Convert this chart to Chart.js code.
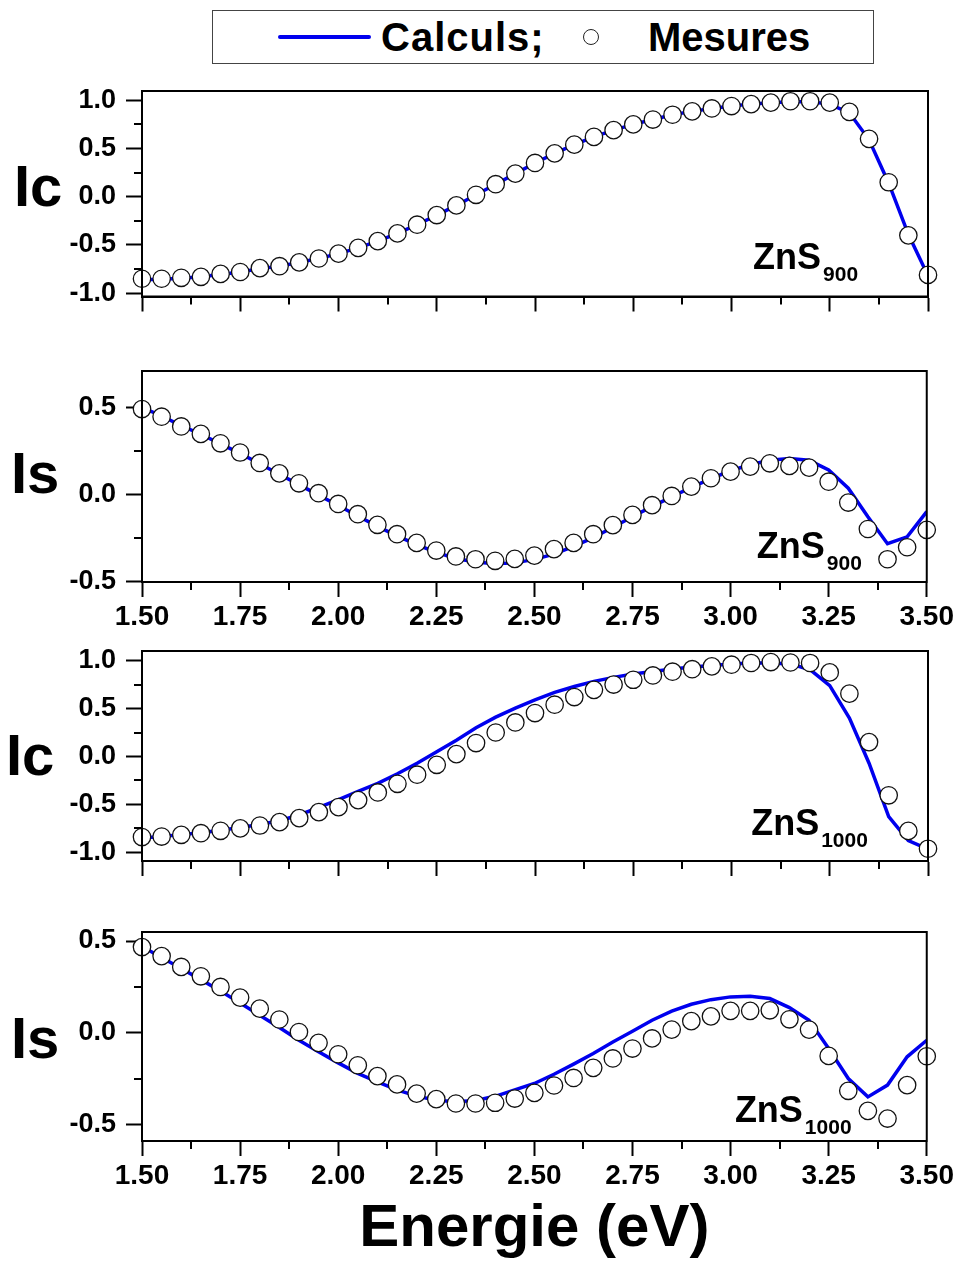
<!DOCTYPE html>
<html>
<head>
<meta charset="utf-8">
<script src="https://cdn.jsdelivr.net/npm/chart.js@4.4.0/dist/chart.umd.min.js"></script>
<style>
  body { margin: 0; background: #fff; width: 960px; height: 1278px; position: relative; overflow: hidden;
         font-family: "Liberation Sans", Arial, sans-serif; }
  canvas { position: absolute; left: 0; }
  .legbox { position: absolute; left: 212px; top: 10px; width: 662px; height: 54px; box-sizing: border-box;
            border: 1.5px solid #444; }
  .legline { position: absolute; left: 278px; top: 35px; width: 93px; height: 4px; background: #0000ee; border-radius: 2px; }
  .legtxt { position: absolute; top: 17px; font-weight: bold; font-size: 40px; line-height: 40px; color: #000; }
  .legdot { position: absolute; left: 583px; top: 29px; width: 16px; height: 16px; box-sizing: border-box;
            border: 1.3px solid #222; border-radius: 50%; background: #fff; }
</style>
</head>
<body>
<div class="legbox"></div>
<div class="legline"></div>
<div class="legtxt" style="left:381px; letter-spacing:1px">Calculs;</div>
<div class="legdot"></div>
<div class="legtxt" style="left:648px">Mesures</div>

<canvas id="c1" width="960" height="260" style="top:60px"></canvas>
<canvas id="c2" width="960" height="300" style="top:340px"></canvas>
<canvas id="c3" width="960" height="270" style="top:620px"></canvas>
<canvas id="c4" width="960" height="378" style="top:900px"></canvas>

<script>
// Energie (eV) - same grid for every series
const energie = [1.50, 1.55, 1.60, 1.65, 1.70, 1.75, 1.80, 1.85, 1.90, 1.95,
  2.00, 2.05, 2.10, 2.15, 2.20, 2.25, 2.30, 2.35, 2.40, 2.45,
  2.50, 2.55, 2.60, 2.65, 2.70, 2.75, 2.80, 2.85, 2.90, 2.95,
  3.00, 3.05, 3.10, 3.15, 3.20, 3.25, 3.30, 3.35, 3.40, 3.45, 3.50];

// ZnS 900 - Ic
const mesIc900 = [-0.85, -0.85, -0.84, -0.83, -0.80, -0.78, -0.74, -0.72, -0.68, -0.64,
  -0.59, -0.53, -0.46, -0.38, -0.29, -0.19, -0.09, 0.02, 0.13, 0.24,
  0.35, 0.45, 0.54, 0.62, 0.69, 0.75, 0.80, 0.85, 0.885, 0.915,
  0.94, 0.96, 0.975, 0.99, 0.99, 0.975, 0.88, 0.60, 0.15, -0.40, -0.81];
const calIc900 = [-0.86, -0.855, -0.845, -0.83, -0.805, -0.78, -0.745, -0.72, -0.68, -0.64,
  -0.59, -0.53, -0.46, -0.38, -0.29, -0.19, -0.09, 0.02, 0.13, 0.24,
  0.35, 0.45, 0.54, 0.62, 0.69, 0.75, 0.80, 0.85, 0.885, 0.915,
  0.94, 0.96, 0.975, 0.985, 0.985, 0.96, 0.87, 0.59, 0.14, -0.39, -0.82];

// ZnS 900 - Is
const mesIs900 = [0.49, 0.446, 0.39, 0.347, 0.293, 0.24, 0.18, 0.12, 0.063, 0.006,
  -0.056, -0.115, -0.176, -0.23, -0.28, -0.324, -0.358, -0.374, -0.383, -0.372,
  -0.353, -0.316, -0.28, -0.23, -0.178, -0.119, -0.063, -0.01, 0.044, 0.092,
  0.13, 0.159, 0.178, 0.163, 0.153, 0.072, -0.048, -0.20, -0.374, -0.305, -0.205];
const calIs900 = [0.50, 0.45, 0.395, 0.345, 0.29, 0.235, 0.175, 0.115, 0.055, -0.005,
  -0.065, -0.125, -0.185, -0.24, -0.29, -0.335, -0.37, -0.39, -0.40, -0.395,
  -0.375, -0.345, -0.30, -0.25, -0.19, -0.13, -0.07, -0.015, 0.04, 0.09,
  0.135, 0.17, 0.195, 0.205, 0.195, 0.14, 0.035, -0.13, -0.285, -0.245, -0.10];

// ZnS 1000 - Ic
const mesIc1000 = [-0.84, -0.835, -0.817, -0.80, -0.775, -0.75, -0.72, -0.685, -0.643, -0.58,
  -0.528, -0.455, -0.375, -0.285, -0.19, -0.087, 0.025, 0.14, 0.25, 0.355,
  0.453, 0.54, 0.62, 0.695, 0.75, 0.80, 0.845, 0.884, 0.91, 0.94,
  0.957, 0.975, 0.985, 0.98, 0.975, 0.877, 0.655, 0.15, -0.405, -0.776, -0.962];
const calIc1000 = [-0.85, -0.835, -0.815, -0.795, -0.77, -0.74, -0.71, -0.67, -0.61, -0.53,
  -0.45, -0.365, -0.28, -0.18, -0.07, 0.05, 0.17, 0.30, 0.41, 0.505,
  0.59, 0.668, 0.73, 0.783, 0.825, 0.86, 0.887, 0.912, 0.933, 0.95,
  0.965, 0.975, 0.975, 0.965, 0.905, 0.738, 0.40, -0.07, -0.626, -0.877, -0.967];

// ZnS 1000 - Is
const mesIs1000 = [0.467, 0.418, 0.359, 0.308, 0.25, 0.192, 0.132, 0.073, 0.005, -0.054,
  -0.116, -0.176, -0.235, -0.28, -0.33, -0.36, -0.384, -0.384, -0.38, -0.357,
  -0.326, -0.286, -0.245, -0.19, -0.139, -0.085, -0.03, 0.018, 0.064, 0.09,
  0.12, 0.12, 0.123, 0.074, 0.018, -0.125, -0.315, -0.424, -0.466, -0.284, -0.127];
const calIs1000 = [0.47, 0.41, 0.35, 0.29, 0.228, 0.163, 0.096, 0.029, -0.04, -0.103,
  -0.163, -0.22, -0.266, -0.31, -0.344, -0.366, -0.375, -0.368, -0.345, -0.31,
  -0.275, -0.225, -0.17, -0.112, -0.049, 0.009, 0.069, 0.118, 0.156, 0.181,
  0.196, 0.2, 0.187, 0.138, 0.069, -0.085, -0.248, -0.348, -0.284, -0.13, -0.04];

const FONT = '"Liberation Sans", Arial, sans-serif';

function pts(ys) {
    return ys.map((v, i) => ({ x: energie[i], y: v }));
}

// frame, minor ticks, "Ic"/"Is" and ZnS tags
const deco = {
    id: 'deco',
    afterDraw(chart, args, o) {
        const { ctx, chartArea: a, scales: { x, y } } = chart;
        ctx.save();
        ctx.strokeStyle = '#000';
        ctx.lineWidth = 2;
        ctx.strokeRect(a.left, a.top, a.right - a.left, a.bottom - a.top);

        // minor ticks half way between the majors
        ctx.beginPath();
        const xt = x.ticks.map(t => t.value);
        for (let i = 1; i < xt.length; i++) {
            const px = Math.round(x.getPixelForValue((xt[i - 1] + xt[i]) / 2));
            ctx.moveTo(px, a.bottom);
            ctx.lineTo(px, a.bottom + 8);
        }
        const yt = y.ticks.map(t => t.value);
        const ym = [];
        for (let i = 1; i < yt.length; i++) ym.push((yt[i - 1] + yt[i]) / 2);
        const half = (yt[1] - yt[0]) / 2;
        if (yt[0] - half >= y.min) ym.push(yt[0] - half);
        if (yt[yt.length - 1] + half <= y.max) ym.push(yt[yt.length - 1] + half);
        ym.forEach(v => {
            const py = Math.round(y.getPixelForValue(v));
            ctx.moveTo(a.left, py);
            ctx.lineTo(a.left - 8, py);
        });
        ctx.stroke();

        ctx.fillStyle = '#000';
        ctx.textBaseline = 'alphabetic';
        ctx.textAlign = 'left';
        ctx.font = 'bold 58px ' + FONT;
        ctx.fillText(o.label, o.labelX, y.getPixelForValue(o.labelY) + 21);

        const tx = x.getPixelForValue(o.tag[0]);
        const ty = y.getPixelForValue(o.tag[1]);
        ctx.font = 'bold 36px ' + FONT;
        ctx.fillText('ZnS', tx, ty);
        const w = ctx.measureText('ZnS').width;
        ctx.font = 'bold 21px ' + FONT;
        ctx.fillText(o.sub, tx + w + 2, ty + 12);
        ctx.restore();
    }
};

function drawPanel(id, cfg) {
    const ctx = document.getElementById(id);
    new Chart(ctx, {
        type: 'scatter',
        data: {
            datasets: [{
                label: 'Mesures',
                data: pts(cfg.mes),
                showLine: false,
                pointRadius: 8.7,
                pointBackgroundColor: '#fff',
                pointBorderColor: '#111',
                pointBorderWidth: 1.3,
                clip: false,
                order: 0
            }, {
                label: 'Calculs',
                data: pts(cfg.cal),
                showLine: true,
                borderColor: '#0000ee',
                borderWidth: 3.5,
                pointRadius: 0,
                tension: 0,
                order: 1
            }]
        },
        options: {
            responsive: false,
            animation: false,
            events: [],
            layout: { padding: { top: cfg.padTop, right: 32, left: 0, bottom: 0 } },
            scales: {
                x: {
                    type: 'linear',
                    min: 1.5,
                    max: 3.5,
                    border: { color: '#000', width: 2 },
                    grid: { drawOnChartArea: false, drawTicks: true, tickLength: 15, tickColor: '#000', tickWidth: 2 },
                    ticks: {
                        display: cfg.xLabels,
                        stepSize: 0.25,
                        autoSkip: false,
                        maxRotation: 0,
                        padding: 6,
                        color: '#000',
                        font: { family: FONT, size: 28, weight: 'bold', lineHeight: 1 },
                        callback: v => Number(v).toFixed(2)
                    },
                    title: {
                        display: !!cfg.xTitle,
                        text: cfg.xTitle || '',
                        color: '#000',
                        font: { family: FONT, size: 60, weight: 'bold', lineHeight: 1.2 },
                        padding: { top: 0, bottom: 13 }
                    },
                    afterFit: s => { s.height = cfg.xHeight; }
                },
                y: {
                    min: cfg.yMin,
                    max: cfg.yMax,
                    border: { color: '#000', width: 2 },
                    grid: { drawOnChartArea: false, drawTicks: true, tickLength: 16, tickColor: '#000', tickWidth: 2 },
                    ticks: {
                        stepSize: 0.5,
                        includeBounds: false,
                        autoSkip: false,
                        padding: 10,
                        color: '#000',
                        font: { family: FONT, size: 27, weight: 'bold', lineHeight: 1 },
                        callback: v => Number(v).toFixed(1)
                    },
                    afterFit: s => { s.width = 142; }
                }
            },
            plugins: {
                legend: { display: false },
                tooltip: { enabled: false },
                deco: cfg.deco
            }
        },
        plugins: [deco]
    });
}

drawPanel('c1', {
    mes: mesIc900, cal: calIc900, yMin: -1.034, yMax: 1.096, padTop: 31, xHeight: 20, xLabels: false,
    deco: { label: 'Ic', labelX: 14, labelY: 0.12, tag: [3.055, -0.748], sub: '900' }
});
drawPanel('c2', {
    mes: mesIs900, cal: calIs900, yMin: -0.505, yMax: 0.709, padTop: 31, xHeight: 58, xLabels: true,
    deco: { label: 'Is', labelX: 11, labelY: 0.128, tag: [3.067, -0.366], sub: '900' }
});
drawPanel('c3', {
    mes: mesIc1000, cal: calIc1000, yMin: -1.09, yMax: 1.10, padTop: 31, xHeight: 29, xLabels: false,
    deco: { label: 'Ic', labelX: 6, labelY: 0.03, tag: [3.050, -0.817], sub: '1000' }
});
drawPanel('c4', {
    mes: mesIs1000, cal: calIs1000, yMin: -0.588, yMax: 0.549, padTop: 32, xHeight: 137, xLabels: true,
    xTitle: 'Energie (eV)',
    deco: { label: 'Is', labelX: 11, labelY: -0.023, tag: [3.011, -0.485], sub: '1000' }
});
</script>
</body>
</html>
